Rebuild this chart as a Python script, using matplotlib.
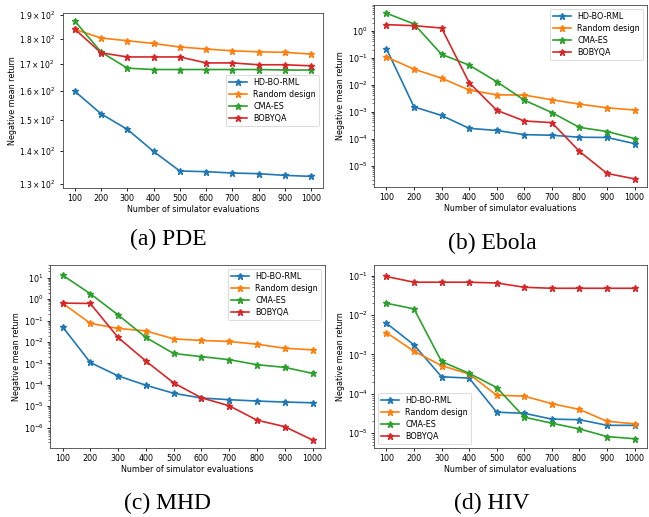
import matplotlib
matplotlib.use("Agg")
import matplotlib.pyplot as plt
import matplotlib.ticker as mticker

evals = [100, 200, 300, 400, 500, 600, 700, 800, 900, 1000]
methods = ["HD-BO-RML", "Random design", "CMA-ES", "BOBYQA"]
colors = ["#1f77b4", "#ff7f0e", "#2ca02c", "#d62728"]

pde_hdbo = [160.0, 152.1, 146.9, 139.8, 133.8, 133.6, 133.2, 133.0, 132.5, 132.2]
pde_random = [183.8, 180.3, 179.2, 178.1, 176.7, 175.9, 175.2, 174.8, 174.6, 173.9]
pde_cma = [187.3, 174.7, 168.5, 168.0, 168.0, 168.0, 168.0, 168.0, 167.8, 167.8]
pde_bobyqa = [183.9, 174.4, 172.8, 172.8, 172.8, 170.5, 170.5, 169.8, 169.8, 169.4]

ebola_hdbo = [0.217, 1.5e-3, 7.2e-4, 2.4e-4, 2.0e-4, 1.4e-4, 1.33e-4, 1.12e-4, 1.1e-4, 6.5e-5]
ebola_random = [0.106, 0.0376, 0.0174, 6.3e-3, 4.2e-3, 4.1e-3, 2.75e-3, 1.9e-3, 1.38e-3, 1.15e-3]
ebola_cma = [4.47, 1.78, 0.133, 0.053, 0.0129, 2.66e-3, 9.2e-4, 2.6e-4, 1.83e-4, 1.0e-4]
ebola_bobyqa = [1.68, 1.54, 1.26, 0.0119, 1.12e-3, 4.5e-4, 3.9e-4, 3.35e-5, 5.1e-6, 3.2e-6]

mhd_hdbo = [0.052, 1.1e-3, 2.6e-4, 9.5e-5, 4.0e-5, 2.4e-5, 2.0e-5, 1.73e-5, 1.55e-5, 1.44e-5]
mhd_random = [0.66, 0.075, 0.043, 0.033, 0.014, 0.0118, 0.0106, 7.9e-3, 5.1e-3, 4.3e-3]
mhd_cma = [13.4, 1.82, 0.186, 0.0164, 2.9e-3, 2.07e-3, 1.49e-3, 8.7e-4, 6.5e-4, 3.4e-4]
mhd_bobyqa = [0.66, 0.635, 0.0163, 1.29e-3, 1.22e-4, 2.45e-5, 1.04e-5, 2.2e-6, 1.1e-6, 2.6e-7]

hiv_hdbo = [6.2e-3, 1.74e-3, 2.7e-4, 2.5e-4, 3.4e-5, 3.2e-5, 2.27e-5, 2.2e-5, 1.58e-5, 1.58e-5]
hiv_random = [3.58e-3, 1.2e-3, 5.2e-4, 3.16e-4, 9.2e-5, 8.7e-5, 5.6e-5, 4.0e-5, 2.0e-5, 1.73e-5]
hiv_cma = [0.0199, 0.0143, 6.6e-4, 3.3e-4, 1.44e-4, 2.55e-5, 1.79e-5, 1.28e-5, 8.2e-6, 7.2e-6]
hiv_bobyqa = [0.095, 0.068, 0.068, 0.068, 0.065, 0.0506, 0.0477, 0.0477, 0.0477, 0.0477]

pde_ticks = [130, 140, 150, 160, 170, 180, 190]
pde_ticklabels = ["1.3", "1.4", "1.5", "1.6", "1.7", "1.8", "1.9"]

captions = ["(a) PDE", "(b) Ebola", "(c) MHD", "(d) HIV"]

W, H = 649, 517
fig = plt.figure(figsize=(W / 100, H / 100), dpi=100)

FS = 5.8

def add_ax(x0, y0, x1, y1):
    return fig.add_axes([x0 / W, 1 - y1 / H, (x1 - x0) / W, (y1 - y0) / H])

panels = [
    (add_ax(63, 13, 323, 188), [pde_hdbo, pde_random, pde_cma, pde_bobyqa], (128.8, 190.7), "center right"),
    (add_ax(374, 5, 647, 187), [ebola_hdbo, ebola_random, ebola_cma, ebola_bobyqa], (1.6e-6, 9.0), "upper right"),
    (add_ax(50, 265, 325, 448), [mhd_hdbo, mhd_random, mhd_cma, mhd_bobyqa], (1.1e-7, 40), "upper right"),
    (add_ax(374, 265, 647, 448), [hiv_hdbo, hiv_random, hiv_cma, hiv_bobyqa], (4.2e-6, 0.186), "lower left"),
]

for i, (ax, series, ylim, loc) in enumerate(panels):
    for name, vals, c in zip(methods, series, colors):
        ax.plot(evals, vals, marker="*", color=c, label=name, lw=1.2, ms=4.8)
    ax.set_yscale("log")
    ax.set_ylim(*ylim)
    ax.set_xticks(evals)
    ax.tick_params(labelsize=FS, length=2.5, width=0.6, pad=2)
    ax.tick_params(which="minor", length=1.5, width=0.4)
    ax.set_xlabel("Number of simulator evaluations", fontsize=FS, labelpad=1.5)
    ax.set_ylabel("Negative mean return", fontsize=FS, labelpad=1.5)
    for s in ax.spines.values():
        s.set_linewidth(0.6)
        s.set_color("#444444")
    leg = ax.legend(loc=loc, fontsize=FS, handlelength=2.2, borderpad=0.4, labelspacing=0.35)
    leg.get_frame().set_linewidth(0.6)

axa = panels[0][0]
axa.yaxis.set_major_locator(mticker.NullLocator())
axa.yaxis.set_minor_locator(mticker.FixedLocator(pde_ticks))
axa.yaxis.set_minor_formatter(mticker.FixedFormatter(
    [r"$\mathdefault{%s\times10^{2}}$" % t for t in pde_ticklabels]))
axa.tick_params(axis="y", which="minor", length=2.5, width=0.6, labelsize=5.5)

cap_pos = [(168, 239), (492, 243), (168, 503), (492, 503)]
for txt, (cx, cy) in zip(captions, cap_pos):
    fig.text(cx / W, 1 - cy / H, txt, ha="center", va="center",
             fontsize=17, family="Liberation Serif")

fig.savefig("out.png", dpi=100)
